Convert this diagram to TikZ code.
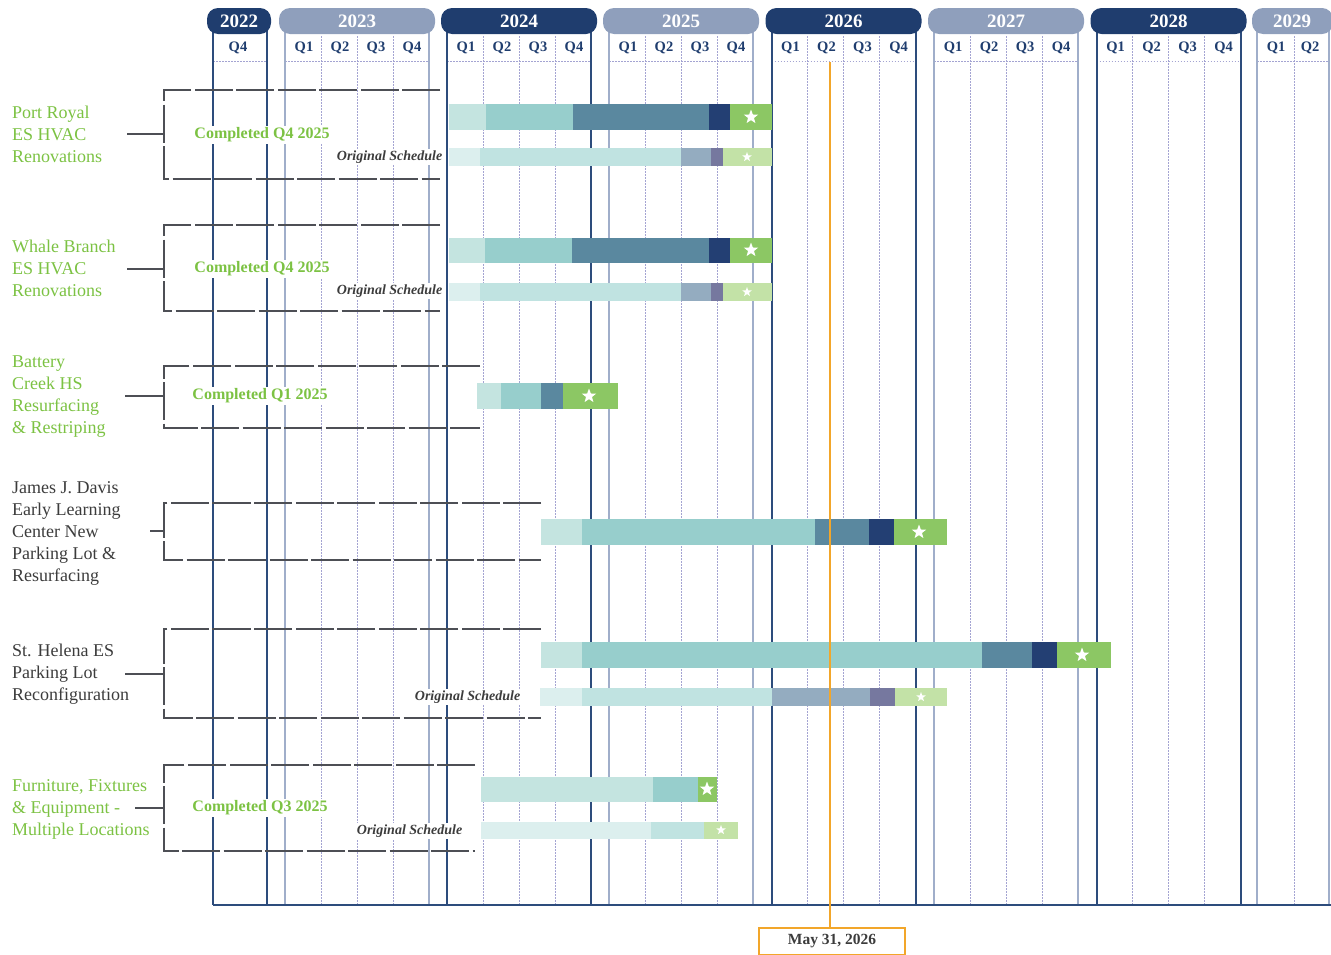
\documentclass[tikz,border=0pt]{standalone}
\usepackage{fontspec}
\setmainfont{Liberation Serif}
\usetikzlibrary{shapes.geometric}

\definecolor{hdnavy}{HTML}{1F3D6E}
\definecolor{hdgrey}{HTML}{8F9FBC}
\definecolor{lndark}{HTML}{2D4C7C}
\definecolor{lnlight}{HTML}{A0AECA}
\definecolor{qdots}{HTML}{A4A4D2}
\definecolor{labgreen}{HTML}{7CC243}
\definecolor{labgrey}{HTML}{3C3C3C}
\definecolor{brgrey}{HTML}{4D4F55}
\definecolor{todayorange}{HTML}{F2A62A}
% actual schedule
\definecolor{cA}{HTML}{C4E4E0}
\definecolor{cB}{HTML}{97CECC}
\definecolor{cC}{HTML}{5A889F}
\definecolor{cD}{HTML}{233F73}
\definecolor{cE}{HTML}{8CC764}
% original schedule
\definecolor{oA}{HTML}{DCEFEE}
\definecolor{oB}{HTML}{C0E3E1}
\definecolor{oC}{HTML}{94ACC0}
\definecolor{oD}{HTML}{76789F}
\definecolor{oE}{HTML}{C3E2A7}

\newcommand{\ganttbar}[3]{%
  \foreach \xa/\xb/\col in {#3} \fill[\col] (\xa,#1) rectangle (\xb,#2);}

\begin{document}
\begin{tikzpicture}[x=1bp, y=-1bp,
  yearlbl/.style={text=white, font=\bfseries\fontsize{19bp}{19bp}\selectfont},
  qlbl/.style={text=hdnavy, font=\bfseries\fontsize{14.5bp}{14bp}\selectfont},
  qsep/.style={qdots, line width=1bp, dash pattern=on 1.5bp off 1.5bp},
  bracket/.style={brgrey, line width=1.8bp, dash pattern=on 38bp off 3.5bp},
  proj/.style={anchor=west, align=left, inner sep=0pt, font=\fontsize{18bp}{22bp}\selectfont},
  done/.style={text=labgreen, fill=white, inner sep=2bp, font=\bfseries\fontsize{16bp}{16bp}\selectfont},
  orig/.style={text=labgrey, fill=white, inner sep=1.5bp, anchor=east, font=\bfseries\itshape\fontsize{14bp}{14bp}\selectfont},
  bigstar/.style={star, star points=5, star point ratio=2.4, fill=white, inner sep=0pt, minimum size=15bp},
  smallstar/.style={bigstar, minimum size=10bp},
]
\clip[use as bounding box] (0,0) rectangle (1331,954);

% Timeline grid: 2022 (Q4 only)
\draw[qsep] (213,61) -- (267,61);
\draw[lndark, line width=2bp] (213,30) -- (213,905) (267,30) -- (267,905);
\fill[hdnavy, rounded corners=11bp] (207,8) rectangle (271,34);
\node[yearlbl] (y2022) at (239,21) {2022};
\node[qlbl] (q2022-4) at (238,48) {Q4};

% full years
\foreach \yr/\xl/\hd/\ln in {2023/285/hdgrey/lnlight, 2024/447/hdnavy/lndark,
    2025/609/hdgrey/lnlight, 2026/771.5/hdnavy/lndark,
    2027/934/hdgrey/lnlight, 2028/1096.5/hdnavy/lndark} {
  \foreach \q in {1,2,3} \draw[qsep] (\xl+36*\q,36) -- (\xl+36*\q,905);
  \draw[qsep] (\xl,61) -- (\xl+144,61);
  \draw[\ln, line width=2bp] (\xl,30) -- (\xl,905) (\xl+144,30) -- (\xl+144,905);
  \fill[\hd, rounded corners=11bp] (\xl-6,8) rectangle (\xl+150,34);
  \node[yearlbl] (y\yr) at (\xl+72,21) {\yr};
  \foreach \q in {1,...,4} \node[qlbl] (q\yr-\q) at (\xl+36*\q-17,48) {Q\q};
}

% 2029 (Q1, Q2)
\draw[qsep] (1294,36) -- (1294,905);
\draw[qsep] (1257,61) -- (1329,61);
\draw[lnlight, line width=2bp] (1257,30) -- (1257,905) (1329,30) -- (1329,905);
\fill[hdgrey, rounded corners=11bp] (1252,8) rectangle (1333,34);
\node[yearlbl] (y2029) at (1292,21) {2029};
\node[qlbl] (q2029-1) at (1276,48) {Q1};
\node[qlbl] (q2029-2) at (1310,48) {Q2};

\draw[lndark, line width=1.6bp] (213,905) -- (1331,905);

% Brackets
\foreach \n/\sx/\ym/\yt/\yb/\xe in {pr/127/134/90/179/440, wb/127/269/225/311/440,
    bc/125/396/366/428/480, jd/150/531/503/560/541,
    sh/125/674/629/718/541, ff/135/808/765/851/475} {
  \coordinate (\n-s) at (\sx,\ym);
  \coordinate (\n-b) at (164,\ym);
  \draw[bracket] (\n-s) -- (\n-b);
  \draw[bracket] (\xe,\yt) -- (164,\yt) -- (164,\yb) -- (\xe,\yb);
}

% Project names
\node[proj, text=labgreen] (pr) at (12,134) {Port Royal\\ES HVAC\\Renovations};
\node[proj, text=labgreen] (wb) at (12,268) {Whale Branch\\ES HVAC\\Renovations};
\node[proj, text=labgreen] (bc) at (12,397) {Battery\\Creek HS\\Resurfacing\\\& Restriping};
\node[proj, text=labgrey] (jd) at (12,533) {James J. Davis\\Early Learning\\Center New\\Parking Lot \&\\Resurfacing};
\node[proj, text=labgrey] (sh) at (12,674) {St. Helena ES\\Parking Lot\\Reconfiguration};
\node[proj, text=labgreen] (ff) at (12,809) {Furniture, Fixtures\\\& Equipment -\\Multiple Locations};

\node[done] (pr-done) at (262,135) {Completed Q4 2025};
\node[done] (wb-done) at (262,269) {Completed Q4 2025};
\node[done] (bc-done) at (260,396) {Completed Q1 2025};
\node[done] (ff-done) at (260,808) {Completed Q3 2025};

\node[orig] (pr-orig) at (444,157) {Original Schedule};
\node[orig] (wb-orig) at (444,291) {Original Schedule};
\node[orig] (sh-orig) at (522,697) {Original Schedule};
\node[orig] (ff-orig) at (464,831) {Original Schedule};

% Bars
\ganttbar{104}{130}{449/486/cA, 486/573/cB, 573/709/cC, 709/730/cD, 730/772/cE}
\ganttbar{148}{166}{449/480/oA, 480/681/oB, 681/711/oC, 711/723/oD, 723/772/oE}
\node[bigstar] (pr-star) at (751,117) {};
\node[smallstar] (pr-ostar) at (747,157) {};

\ganttbar{238}{263}{449/485/cA, 485/572/cB, 572/709/cC, 709/730/cD, 730/772/cE}
\ganttbar{283}{301}{449/480/oA, 480/681/oB, 681/711/oC, 711/723/oD, 723/772/oE}
\node[bigstar] (wb-star) at (751,250) {};
\node[smallstar] (wb-ostar) at (747,292) {};

\ganttbar{383}{409}{477/501/cA, 501/541/cB, 541/563/cC, 563/618/cE}
\node[bigstar] (bc-star) at (589,396) {};

\ganttbar{519}{545}{541/582/cA, 582/815/cB, 815/869/cC, 869/894/cD, 894/947/cE}
\node[bigstar] (jd-star) at (919,532) {};

\ganttbar{642}{668}{541/582/cA, 582/982/cB, 982/1032/cC, 1032/1057/cD, 1057/1111/cE}
\ganttbar{688}{706}{540/582/oA, 582/772/oB, 772/870/oC, 870/895/oD, 895/947/oE}
\node[bigstar] (sh-star) at (1082,655) {};
\node[smallstar] (sh-ostar) at (921,697) {};

\ganttbar{777}{802}{481/653/cA, 653/698/cB, 698/717/cE}
\ganttbar{822}{839}{481/651/oA, 651/704/oB, 704/738/oE}
\node[bigstar] (ff-star) at (707,789) {};
\node[smallstar] (ff-ostar) at (721,830) {};

% Status date
\node[draw=todayorange, line width=1.5bp, minimum width=146bp, minimum height=27bp,
  text=labgrey, font=\bfseries\fontsize{15.5bp}{16bp}\selectfont] (today) at (832,941.5) {May 31, 2026};
\coordinate (today-top) at (830,62);
\draw[todayorange, line width=1.6bp] (today-top) -- (today.north -| today-top);

\end{tikzpicture}
\end{document}
